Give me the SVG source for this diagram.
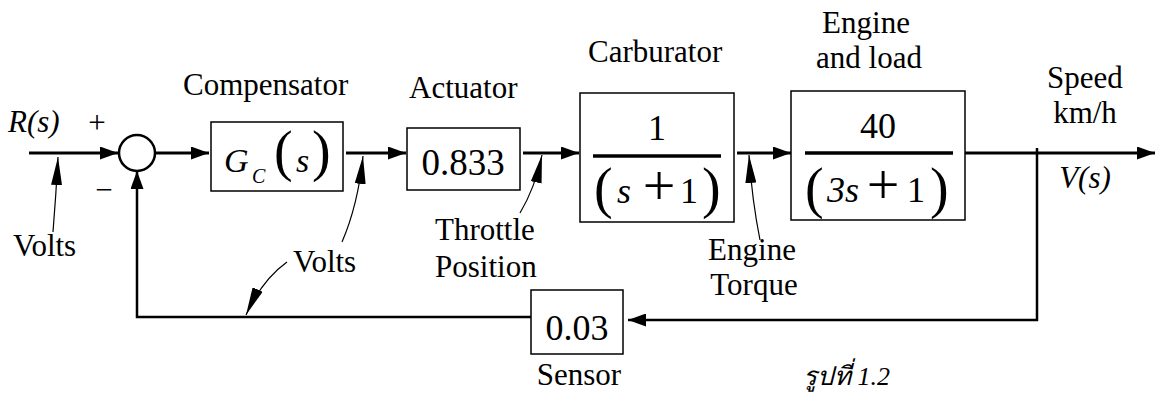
<svg xmlns="http://www.w3.org/2000/svg" width="1157" height="396" viewBox="0 0 1157 396">
<defs>
  <marker id="arr" viewBox="0 0 18 13" refX="18" refY="6.5" markerWidth="18" markerHeight="13" markerUnits="userSpaceOnUse" orient="auto"><path d="M0,0 L18,6.5 L0,13 z" fill="#000"/></marker>
  <marker id="carr" viewBox="0 0 28 11" refX="28" refY="5.5" markerWidth="28" markerHeight="11" markerUnits="userSpaceOnUse" orient="auto"><path d="M0,0 L28,5.5 L0,11 z" fill="#000"/></marker>
</defs>
<rect width="1157" height="396" fill="#fff"/>

<g id="connectors" fill="none" stroke="#000">
  <g stroke-width="3">
    <path d="M29,153 H118" marker-end="url(#arr)"/>
    <path d="M155,153 H209" marker-end="url(#arr)"/>
    <path d="M346,153 H406" marker-end="url(#arr)"/>
    <path d="M523,153 H579" marker-end="url(#arr)"/>
    <path d="M737,153 H791" marker-end="url(#arr)"/>
    <path d="M963,153 H1155" marker-end="url(#arr)"/>
    <path d="M1037,148 V320 H628" stroke-width="2.5" marker-end="url(#arr)"/>
    <path d="M531,317 H137 V171" stroke-width="2.5" marker-end="url(#arr)"/>
  </g>
  <g stroke-width="1.2">
    <path d="M53,232 Q56,195 58,157" marker-end="url(#carr)"/>
    <path d="M342,242 Q358,205 363,156" marker-end="url(#carr)"/>
    <path d="M287,262 Q262,280 246,315" marker-end="url(#carr)"/>
    <path d="M520,213 Q535,188 542,155" marker-end="url(#carr)"/>
    <path d="M760,240 Q752,200 749,155" marker-end="url(#carr)"/>
  </g>
</g>

<g id="input">
  <text font-family="Liberation Serif" style="font-family:'Liberation Serif',serif !important" font-size="31" font-style="italic" x="8" y="132">R(s)</text>
  <text font-family="Liberation Serif" style="font-family:'Liberation Serif',serif !important" font-size="31" x="97" y="133" text-anchor="middle">+</text>
  <text font-family="Liberation Serif" style="font-family:'Liberation Serif',serif !important" font-size="31" x="104" y="200" text-anchor="middle">−</text>
  <text font-family="Liberation Serif" style="font-family:'Liberation Serif',serif !important" font-size="31" x="13" y="256">Volts</text>
</g>

<g id="summer">
  <circle cx="137" cy="153" r="18" fill="#fff" stroke="#000" stroke-width="2.5"/>
</g>

<g id="compensator">
  <text font-family="Liberation Serif" style="font-family:'Liberation Serif',serif !important" font-size="31" x="183" y="95">Compensator</text>
  <rect x="211" y="122" width="132" height="69" fill="#fff" stroke="#000" stroke-width="1.5"/>
  <text font-family="Liberation Serif" style="font-family:'Liberation Serif',serif !important" font-size="34" font-style="italic" x="224" y="172">G</text>
  <text font-family="Liberation Serif" style="font-family:'Liberation Serif',serif !important" font-size="20" font-style="italic" x="252" y="183">C</text>
  <text font-family="Liberation Serif" style="font-family:'Liberation Serif',serif !important" font-size="56" x="274" y="170">(</text>
  <text font-family="Liberation Serif" style="font-family:'Liberation Serif',serif !important" font-size="34" font-style="italic" x="296" y="172">s</text>
  <text font-family="Liberation Serif" style="font-family:'Liberation Serif',serif !important" font-size="56" x="312" y="170">)</text>
</g>

<g id="volts-mid">
  <text font-family="Liberation Serif" style="font-family:'Liberation Serif',serif !important" font-size="31" x="293" y="272">Volts</text>
</g>

<g id="actuator">
  <text font-family="Liberation Serif" style="font-family:'Liberation Serif',serif !important" font-size="31" x="409" y="98">Actuator</text>
  <rect x="407" y="128" width="113" height="62" fill="#fff" stroke="#000" stroke-width="1.5"/>
  <text font-family="Liberation Serif" style="font-family:'Liberation Serif',serif !important" font-size="37" x="463" y="175" text-anchor="middle">0.833</text>
</g>

<g id="throttle">
  <text font-family="Liberation Serif" style="font-family:'Liberation Serif',serif !important" font-size="31" x="435" y="240">Throttle</text>
  <text font-family="Liberation Serif" style="font-family:'Liberation Serif',serif !important" font-size="31" x="435" y="277">Position</text>
</g>

<g id="carburator">
  <text font-family="Liberation Serif" style="font-family:'Liberation Serif',serif !important" font-size="31" x="588" y="62">Carburator</text>
  <rect x="580" y="93" width="154" height="129" fill="#fff" stroke="#000" stroke-width="1.5"/>
  <text font-family="Liberation Serif" style="font-family:'Liberation Serif',serif !important" font-size="36" x="657" y="140" text-anchor="middle">1</text>
  <line x1="593" y1="156" x2="721" y2="156" stroke="#000" stroke-width="3.5"/>
  <text font-family="Liberation Serif" style="font-family:'Liberation Serif',serif !important" font-size="56" x="594" y="207">(</text>
  <text font-family="Liberation Serif" style="font-family:'Liberation Serif',serif !important" font-size="36" font-style="italic" x="617" y="203">s</text>
  <text font-family="Liberation Serif" style="font-family:'Liberation Serif',serif !important" font-size="58" x="659" y="205" text-anchor="middle">+</text>
  <text font-family="Liberation Serif" style="font-family:'Liberation Serif',serif !important" font-size="36" x="689" y="203" text-anchor="middle">1</text>
  <text font-family="Liberation Serif" style="font-family:'Liberation Serif',serif !important" font-size="56" x="702" y="207">)</text>
</g>

<g id="torque">
  <text font-family="Liberation Serif" style="font-family:'Liberation Serif',serif !important" font-size="31" x="752" y="260" text-anchor="middle">Engine</text>
  <text font-family="Liberation Serif" style="font-family:'Liberation Serif',serif !important" font-size="31" x="754" y="295" text-anchor="middle">Torque</text>
</g>

<g id="engine">
  <text font-family="Liberation Serif" style="font-family:'Liberation Serif',serif !important" font-size="31" x="866" y="33" text-anchor="middle">Engine</text>
  <text font-family="Liberation Serif" style="font-family:'Liberation Serif',serif !important" font-size="31" x="869" y="68" text-anchor="middle">and load</text>
  <rect x="791" y="91" width="174" height="129" fill="#fff" stroke="#000" stroke-width="1.5"/>
  <text font-family="Liberation Serif" style="font-family:'Liberation Serif',serif !important" font-size="36" x="878" y="138" text-anchor="middle">40</text>
  <line x1="805" y1="153" x2="953" y2="153" stroke="#000" stroke-width="3.5"/>
  <text font-family="Liberation Serif" style="font-family:'Liberation Serif',serif !important" font-size="56" x="805" y="207">(</text>
  <text font-family="Liberation Serif" style="font-family:'Liberation Serif',serif !important" font-size="36" font-style="italic" x="827" y="202">3s</text>
  <text font-family="Liberation Serif" style="font-family:'Liberation Serif',serif !important" font-size="58" x="883" y="204" text-anchor="middle">+</text>
  <text font-family="Liberation Serif" style="font-family:'Liberation Serif',serif !important" font-size="36" x="916" y="202" text-anchor="middle">1</text>
  <text font-family="Liberation Serif" style="font-family:'Liberation Serif',serif !important" font-size="56" x="930" y="207">)</text>
</g>

<g id="output">
  <text font-family="Liberation Serif" style="font-family:'Liberation Serif',serif !important" font-size="31" x="1085" y="88" text-anchor="middle">Speed</text>
  <text font-family="Liberation Serif" style="font-family:'Liberation Serif',serif !important" font-size="31" x="1085" y="123" text-anchor="middle">km/h</text>
  <text font-family="Liberation Serif" style="font-family:'Liberation Serif',serif !important" font-size="31" font-style="italic" x="1085" y="188" text-anchor="middle">V(s)</text>
</g>

<g id="sensor">
  <rect x="531" y="290" width="92" height="64" fill="#fff" stroke="#000" stroke-width="1.5"/>
  <text font-family="Liberation Serif" style="font-family:'Liberation Serif',serif !important" font-size="36" x="577" y="340" text-anchor="middle">0.03</text>
  <text font-family="Liberation Serif" style="font-family:'Liberation Serif',serif !important" font-size="31" x="579" y="385" text-anchor="middle">Sensor</text>
</g>

<g id="caption">
  <text font-family="Liberation Serif" style="font-family:'Liberation Serif',serif !important" font-size="26" font-style="italic" x="803" y="385">รูปที่ 1.2</text>
</g>
</svg>
